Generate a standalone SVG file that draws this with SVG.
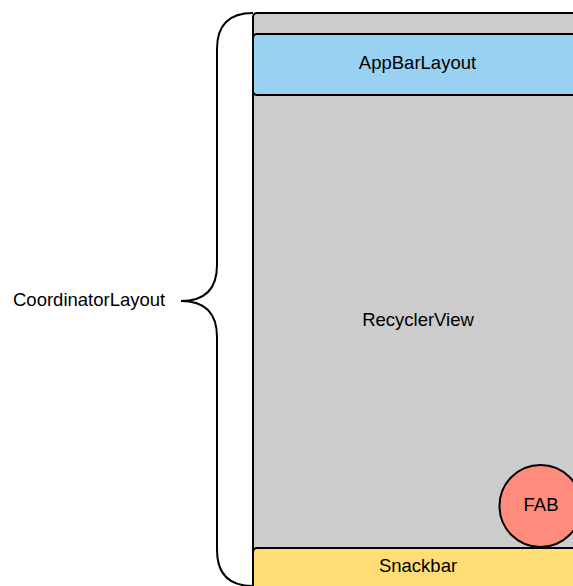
<svg xmlns="http://www.w3.org/2000/svg" width="573" height="586" viewBox="0 0 573 586">
<style>
text{font-family:"Liberation Sans",Arial,sans-serif;font-size:18.5px;fill:#000;}
.c{text-anchor:middle;}
.box{stroke:#000;stroke-width:2;}
</style>
<rect width="573" height="586" fill="#fff"/>
<g id="coordinator">
<rect class="box" x="253" y="13" width="340" height="600" rx="4" fill="#cccccc"/>
</g>
<g id="appbar">
<rect class="box" x="253" y="34" width="340" height="61" rx="4" fill="#99d1f2"/>
<text class="c" x="417.5" y="68.5">AppBarLayout</text>
</g>
<g id="recycler">
<text class="c" x="418" y="325.5">RecyclerView</text>
</g>
<g id="fab">
<circle class="box" cx="540.5" cy="506" r="41" fill="#ff8b7c"/>
<text class="c" x="541" y="510.5">FAB</text>
</g>
<g id="snackbar">
<rect class="box" x="253" y="548" width="340" height="60" rx="4" fill="#ffdc75"/>
<text class="c" x="418" y="572">Snackbar</text>
</g>
<g id="connectors">
<path d="M253,13 Q217,13 217,49 L217,265 Q217,301 181,301 Q217,301 217,337 L217,550 Q217,586 253,586" fill="none" stroke="#000" stroke-width="2"/>
</g>
<g id="label">
<text x="13" y="306">CoordinatorLayout</text>
</g>
</svg>
